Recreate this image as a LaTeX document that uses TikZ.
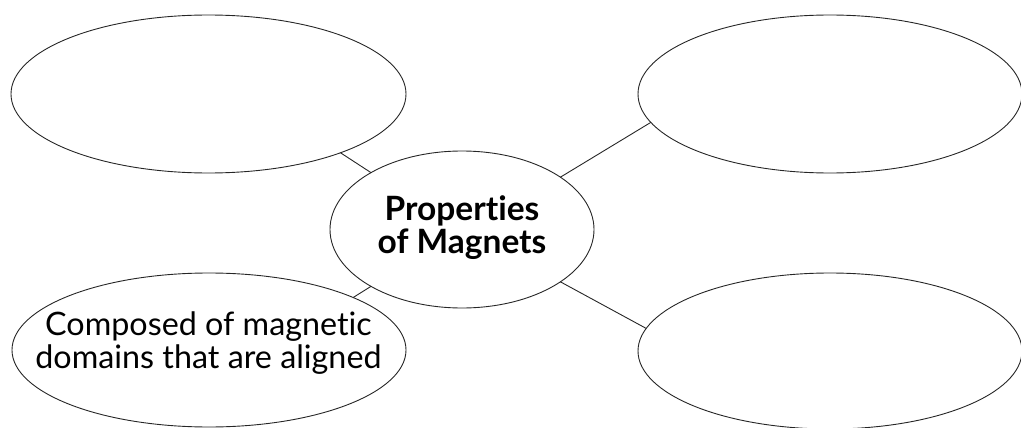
\documentclass[tikz,border=0pt]{standalone}
\usepackage{fontspec}
\setmainfont{Lato}[Ligatures={NoCommon}]
\usetikzlibrary{shapes.geometric}
\begin{document}
\begin{tikzpicture}[x=1pt,y=-1pt,
  bubble/.style={ellipse,draw=black!85,line width=0.9pt,inner sep=0pt,outer sep=0pt},
  link/.style={draw=black!85,line width=0.9pt},
  plain/.style={font=\fontsize{32.3}{33}\selectfont,anchor=base,inner sep=0pt},
  head/.style={font=\fontsize{33.5}{33}\selectfont\bfseries,anchor=base,inner sep=0pt}]
\useasboundingbox (0,0) rectangle (1021,428);
\node[bubble,minimum width=395pt,minimum height=158pt] (tl) at (208.5,94) {};
\node[bubble,minimum width=384pt,minimum height=158pt] (tr) at (830,94) {};
\node[bubble,minimum width=394pt,minimum height=154pt] (bl) at (209,350) {};
\node[bubble,minimum width=384pt,minimum height=156pt] (br) at (830,351) {};
\node[bubble,minimum width=264pt,minimum height=157pt] (c) at (462,229.5) {};
\node[head] (c1) at (462,220) {Properties};
\node[head] (c2) at (462,253) {of Magnets};
\node[plain] (b1) at (208.5,335) {Composed of magnetic};
\node[plain] (b2) at (208.5,368) {domains that are aligned};
\draw[link] (c.148) -- (tl.-24.3);
\draw[link] (c.28.5) -- (tr.189.6);
\draw[link] (c.-148) -- (bl.20.2);
\draw[link] (c.-28) -- (br.173.5);
\end{tikzpicture}
\end{document}
